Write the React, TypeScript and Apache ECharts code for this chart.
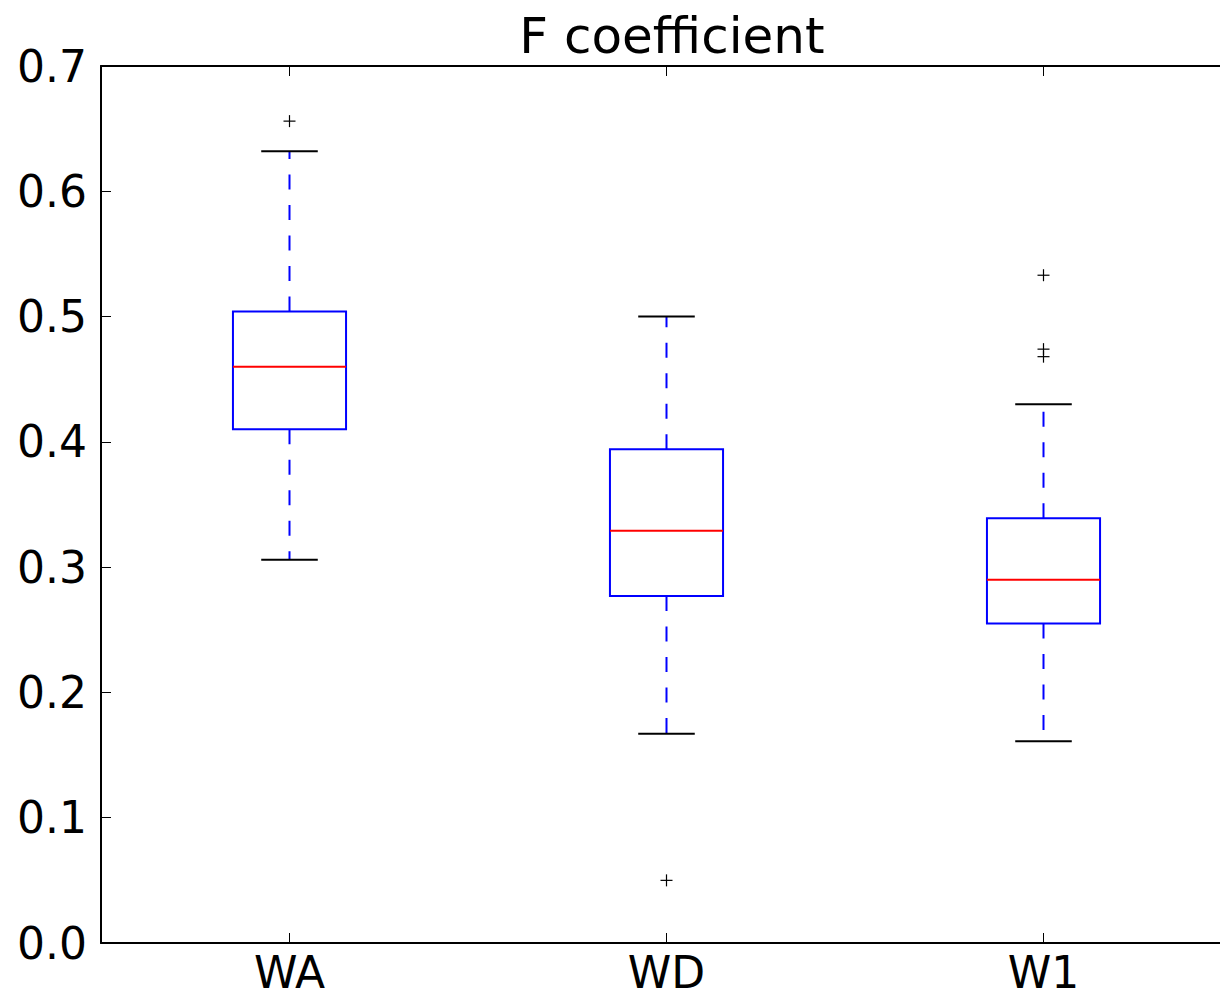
import React, { useEffect, useRef } from "react";
import * as echarts from "echarts";

const categories = ["WA", "WD", "W1"];
const lowerWhisker = [0.306, 0.167, 0.161];
const q1 = [0.41, 0.277, 0.255];
const median = [0.46, 0.329, 0.29];
const q3 = [0.504, 0.394, 0.339];
const upperWhisker = [0.632, 0.5, 0.43];
const outlierCategory = [0, 1, 2, 2, 2];
const outlierValue = [0.656, 0.05, 0.533, 0.474, 0.468];
const yTicks = { min: 0, max: 0.7, interval: 0.1 };

const FONT = "DejaVu Sans";

export default function App() {
  const ref = useRef<HTMLDivElement>(null);
  useEffect(() => {
    if (!ref.current) return;
    const chart = echarts.init(ref.current, null, { renderer: "svg" });
    const boxData = categories.map((_, i) => [
      i,
      lowerWhisker[i],
      q1[i],
      median[i],
      q3[i],
      upperWhisker[i],
    ]);
    const outlierData = outlierCategory.map((c, i) => [c, outlierValue[i]]);

    const xAxisBase = {
      type: "category",
      data: categories,
      boundaryGap: true,
      axisLine: { show: true, onZero: false, lineStyle: { color: "#000", width: 2 } },
      axisTick: {
        show: true,
        inside: true,
        length: 10,
        alignWithLabel: true,
        lineStyle: { color: "#000", width: 1 },
      },
      splitLine: { show: false },
    };
    const yAxisBase = {
      type: "value",
      min: yTicks.min,
      max: yTicks.max,
      interval: yTicks.interval,
      axisLine: { show: true, onZero: false, lineStyle: { color: "#000", width: 2 } },
      axisTick: { show: true, inside: true, length: 10, lineStyle: { color: "#000", width: 1 } },
      splitLine: { show: false },
    };

    const option: any = {
      animation: false,
      backgroundColor: "#fff",
      title: {
        text: "F coefficient",
        left: 667,
        top: 6,
        textAlign: "center",
        textStyle: { fontFamily: FONT, fontSize: 50, fontWeight: "normal", color: "#000" },
      },
      grid: { left: 101, top: 66, width: 1131, height: 877 },
      xAxis: [
        {
          ...xAxisBase,
          position: "bottom",
          axisLabel: { fontFamily: FONT, fontSize: 44, color: "#000", margin: 7 },
        },
        { ...xAxisBase, position: "top", axisLabel: { show: false } },
      ],
      yAxis: [
        {
          ...yAxisBase,
          position: "left",
          axisLabel: {
            fontFamily: FONT,
            fontSize: 44,
            color: "#000",
            margin: 14,
            formatter: (v: number) => v.toFixed(1),
          },
        },
        { ...yAxisBase, position: "right", axisLabel: { show: false } },
      ],
      series: [
        {
          type: "custom",
          xAxisIndex: 0,
          yAxisIndex: 0,
          clip: false,
          data: boxData,
          encode: { x: 0, y: [1, 2, 3, 4, 5] },
          renderItem: (params: any, api: any) => {
            const idx = api.value(0);
            const band = api.size([1, 0])[0];
            const boxW = band * 0.3;
            const capW = band * 0.15;
            const pLow = api.coord([idx, api.value(1)]);
            const pQ1 = api.coord([idx, api.value(2)]);
            const pMed = api.coord([idx, api.value(3)]);
            const pQ3 = api.coord([idx, api.value(4)]);
            const pHigh = api.coord([idx, api.value(5)]);
            const cx = pMed[0];
            const blue = "#0000ff";
            return {
              type: "group",
              children: [
                {
                  type: "line",
                  shape: { x1: cx, y1: pQ3[1], x2: cx, y2: pHigh[1] },
                  style: { stroke: blue, lineWidth: 2, lineDash: [15, 15.5] },
                },
                {
                  type: "line",
                  shape: { x1: cx, y1: pQ1[1], x2: cx, y2: pLow[1] },
                  style: { stroke: blue, lineWidth: 2, lineDash: [15, 15.5] },
                },
                {
                  type: "line",
                  shape: { x1: cx - capW / 2, y1: pHigh[1], x2: cx + capW / 2, y2: pHigh[1] },
                  style: { stroke: "#000", lineWidth: 2 },
                },
                {
                  type: "line",
                  shape: { x1: cx - capW / 2, y1: pLow[1], x2: cx + capW / 2, y2: pLow[1] },
                  style: { stroke: "#000", lineWidth: 2 },
                },
                {
                  type: "rect",
                  shape: { x: cx - boxW / 2, y: pQ3[1], width: boxW, height: pQ1[1] - pQ3[1] },
                  style: { fill: "none", stroke: blue, lineWidth: 2 },
                },
                {
                  type: "line",
                  shape: { x1: cx - boxW / 2, y1: pMed[1], x2: cx + boxW / 2, y2: pMed[1] },
                  style: { stroke: "#ff0000", lineWidth: 2 },
                },
              ],
            };
          },
        },
        {
          type: "custom",
          xAxisIndex: 0,
          yAxisIndex: 0,
          clip: false,
          data: outlierData,
          encode: { x: 0, y: 1 },
          renderItem: (params: any, api: any) => {
            const p = api.coord([api.value(0), api.value(1)]);
            const h = 6;
            return {
              type: "group",
              children: [
                {
                  type: "line",
                  shape: { x1: p[0] - h, y1: p[1], x2: p[0] + h, y2: p[1] },
                  style: { stroke: "#000", lineWidth: 1.2 },
                },
                {
                  type: "line",
                  shape: { x1: p[0], y1: p[1] - h, x2: p[0], y2: p[1] + h },
                  style: { stroke: "#000", lineWidth: 1.2 },
                },
              ],
            };
          },
        },
      ],
    };
    chart.setOption(option);
    return () => chart.dispose();
  }, []);
  return (
    <div
      style={{
        position: "absolute",
        left: 0,
        top: 0,
        width: 1220,
        height: 994,
        overflow: "hidden",
        background: "#fff",
      }}
    >
      <div ref={ref} style={{ width: 1250, height: 994 }} />
    </div>
  );
}
